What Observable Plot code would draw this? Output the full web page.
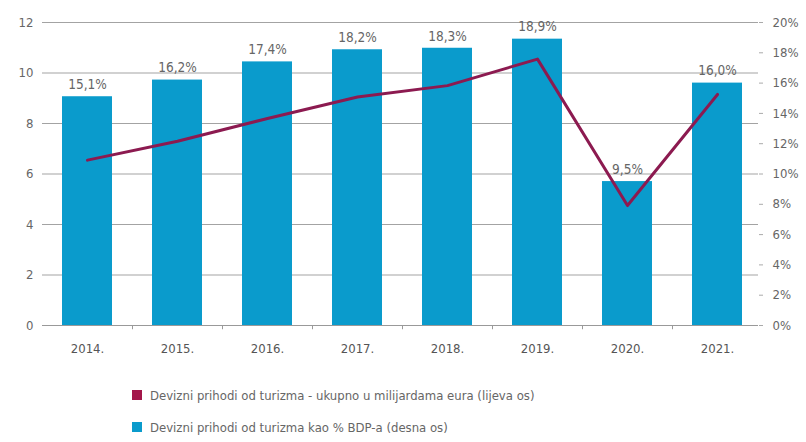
<!DOCTYPE html>
<html>
<head>
<meta charset="utf-8">
<script src="https://cdn.jsdelivr.net/npm/d3@7"></script>
<script src="https://cdn.jsdelivr.net/npm/@observablehq/plot@0.6"></script>
<style>
  body { margin: 0; background: #fff; font-family: "DejaVu Sans Condensed", "Liberation Sans Narrow", "Roboto", sans-serif; }
  #chart { width: 806px; }
  .legend { padding-left: 132px; margin-top: 22px; font-size: 13px; color: #666; }
  .legend div { display: flex; align-items: center; height: 16px; margin-bottom: 16px; }
  .legend span.sw { display: inline-block; width: 10px; height: 10px; margin-right: 8px; }
</style>
</head>
<body>
<div id="chart"></div>
<script>
const years = ["2014.", "2015.", "2016.", "2017.", "2018.", "2019.", "2020.", "2021."];
const sharePct = [15.1, 16.2, 17.4, 18.2, 18.3, 18.9, 9.5, 16.0];          // % BDP-a (desna os)
const revenueBn = [6.55, 7.3, 8.2, 9.05, 9.5, 10.55, 4.75, 9.15];          // mlrd. eura (lijeva os)
const leftTicks = [0, 2, 4, 6, 8, 10, 12];
const rightTicks = [0, 2, 4, 6, 8, 10, 12, 14, 16, 18, 20];
const seriesNames = [
  "Devizni prihodi od turizma - ukupno u milijardama eura (lijeva os)",
  "Devizni prihodi od turizma kao % BDP-a (desna os)"
];
const colors = { line: "#8c1a50", lineLegend: "#a3164a", bar: "#0a9bcc" };

const LEFT_MAX = 12, RIGHT_MAX = 20;
const toRight = v => v * RIGHT_MAX / LEFT_MAX;
const data = years.map((y, i) => ({ year: y, pct: sharePct[i], rev: revenueBn[i] }));
const fmtPct = v => v.toFixed(1).replace(".", ",") + "%";
const fontFamily = '"DejaVu Sans Condensed", "Liberation Sans Narrow", Roboto, sans-serif';

const chart = Plot.plot({
  width: 806,
  height: 365,
  marginTop: 22,
  marginBottom: 40,
  marginLeft: 42,
  marginRight: 48,
  style: { fontFamily, fontSize: "12.5px", color: "#666", background: "#fff" },
  x: { domain: years, range: [42, 762], paddingInner: 0.44, paddingOuter: 0.22, label: null },
  y: { domain: [0, RIGHT_MAX], label: null },
  marks: [
    Plot.gridY(leftTicks.map(toRight), { stroke: "#999", strokeOpacity: 0.9, strokeWidth: 1 }),
    Plot.barY(data, { x: "year", y: "pct", fill: colors.bar }),
    Plot.ruleY([0], { stroke: "#999", strokeWidth: 1.2 }),
    Plot.ruleX(years.slice(0, -1), { x: d => d, dx: 45, y1: 0, y2: -0.28, stroke: "#999" }),
    Plot.lineY(data, { x: "year", y: d => toRight(d.rev), stroke: colors.line, strokeWidth: 3 }),
    Plot.text(data, { x: "year", y: "pct", text: d => fmtPct(d.pct), dy: -12, fill: "#666", fontSize: 13.5 }),
    Plot.axisY(leftTicks.map(toRight), {
      anchor: "left", tickSize: 0, tickPadding: 9,
      tickFormat: d => String(Math.round(d * LEFT_MAX / RIGHT_MAX)), fontSize: 13, fill: "#666", label: null
    }),
    Plot.axisY(rightTicks, {
      anchor: "right", tickSize: 4, tickPadding: 10, stroke: "#aaa",
      tickFormat: d => d + "%", fontSize: 13, fill: "#666", label: null
    }),
    Plot.axisX({ tickSize: 0, tickPadding: 18, fontSize: 13, fill: "#555", label: null })
  ]
});
document.getElementById("chart").appendChild(chart);

const legend = document.createElement("div");
legend.className = "legend";
[[colors.lineLegend, seriesNames[0]], [colors.bar, seriesNames[1]]].forEach(([c, t]) => {
  const row = document.createElement("div");
  const sw = document.createElement("span");
  sw.className = "sw"; sw.style.background = c;
  row.appendChild(sw);
  row.appendChild(document.createTextNode(t));
  legend.appendChild(row);
});
document.getElementById("chart").appendChild(legend);
</script>
</body>
</html>
